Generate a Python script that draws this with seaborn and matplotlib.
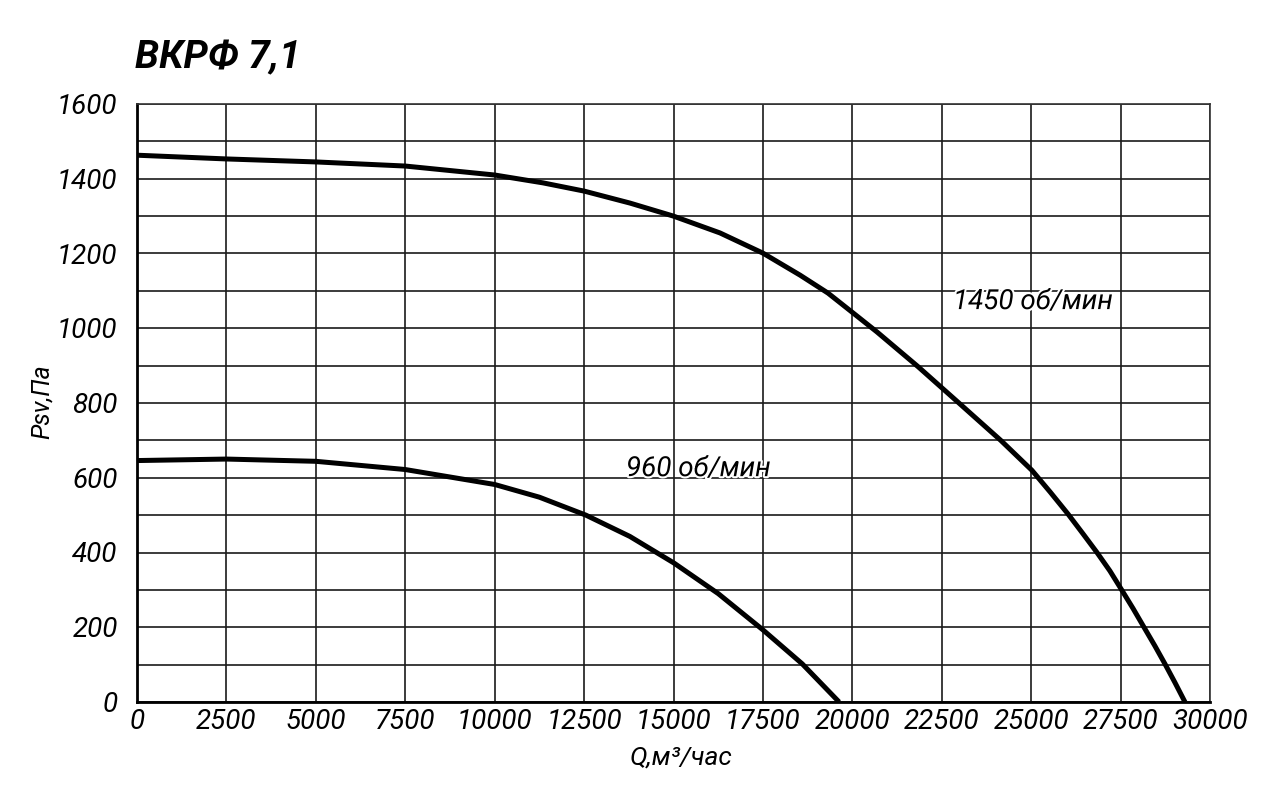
import matplotlib
matplotlib.use("Agg")
import matplotlib.pyplot as plt
import matplotlib.patheffects as pe
from matplotlib.ticker import MultipleLocator
import seaborn as sns
import pandas as pd

# ---- data ----
q_1450 = [0, 2500, 5000, 7500, 10000, 11350, 12500, 13780, 15000, 16300, 17500,
          18540, 19320, 20020, 20690, 21840, 22980, 24150, 25020, 25530,
          26030, 26450, 26840, 27200, 27530, 27850, 28130, 28460, 28740, 29020, 29300]
p_1450 = [1463, 1453, 1445, 1434, 1410, 1389, 1367, 1335, 1300, 1255, 1201,
          1142, 1094, 1041, 990, 897, 800, 700, 620, 562,
          503, 450, 400, 351, 300, 250, 204, 150, 102, 52, 0]

q_960 = [0, 2500, 5000, 7500, 10000, 11250, 12550, 13780, 15010, 16250,
         17500, 18600, 19630]
p_960 = [646, 650, 644, 622, 582, 548, 500, 443, 372, 290,
         193, 102, 0]

curve_labels = ["1450 об/мин", "960 об/мин"]
label_pos = [(22815, 1070), (13672, 623)]

x_ticks = [0, 2500, 5000, 7500, 10000, 12500, 15000, 17500, 20000, 22500, 25000, 27500, 30000]
y_ticks = [0, 200, 400, 600, 800, 1000, 1200, 1400, 1600]

title = "ВКРФ 7,1"
x_label = "Q,м³/час"
y_label = "Psv,Па"

# ---- styling ----
sns.set_theme(style="white")
fam = ["Roboto", "DejaVu Sans"]
plt.rcParams["font.family"] = fam
plt.rcParams["text.color"] = "black"

fig = plt.figure(figsize=(12.63, 8.06), dpi=100)
ax = fig.add_axes([137 / 1263, 104 / 806, (1210 - 137) / 1263, (702 - 104) / 806])

df1 = pd.DataFrame({"Q": q_1450, "P": p_1450})
df2 = pd.DataFrame({"Q": q_960, "P": p_960})
sns.lineplot(data=df1, x="Q", y="P", ax=ax, color="black", linewidth=3.6,
             sort=False, estimator=None, zorder=3)
sns.lineplot(data=df2, x="Q", y="P", ax=ax, color="black", linewidth=3.6,
             sort=False, estimator=None, zorder=3)
for ln in ax.get_lines():
    ln.set_solid_joinstyle("round")
    ln.set_solid_capstyle("butt")

ax.set_xlim(0, 30000)
ax.set_ylim(0, 1600)
ax.set_xticks(x_ticks)
ax.set_yticks(y_ticks)
ax.yaxis.set_minor_locator(MultipleLocator(100))
ax.set_xticklabels([str(v) for v in x_ticks])
ax.set_yticklabels([str(v) for v in y_ticks])
ax.grid(True, which="both", color="#1a1a1a", linewidth=1.2)
ax.set_axisbelow(True)
ax.tick_params(axis="both", which="both", length=0, labelcolor="black")
ax.tick_params(axis="x", pad=5, labelsize=20)
ax.tick_params(axis="y", pad=14, labelsize=20)
for lab in ax.get_xticklabels() + ax.get_yticklabels():
    lab.set_fontstyle("italic")
for s in ["top", "right"]:
    ax.spines[s].set_color("#333333")
    ax.spines[s].set_linewidth(1.2)
for s in ["left", "bottom"]:
    ax.spines[s].set_color("black")
    ax.spines[s].set_linewidth(2)
ax.set_xlabel("")
ax.set_ylabel("")

for txt, (xq, yp) in zip(curve_labels, label_pos):
    ax.text(xq, yp, txt, fontsize=20, fontstyle="italic", ha="left", va="center",
            color="black", zorder=4,
            path_effects=[pe.withStroke(linewidth=3, foreground="white")])

fig.text(135 / 1263, 1 - 58 / 806, title, fontsize=28, fontweight="bold",
         fontstyle="italic", ha="left", va="center", color="black")
fig.text(681 / 1263, 1 - 758 / 806, x_label, fontsize=19, fontstyle="italic",
         ha="center", va="center", color="black")
fig.text(42 / 1263, 1 - 402 / 806, y_label, fontsize=18, fontstyle="italic",
         ha="center", va="center", rotation=90, color="black")

fig.savefig("out.png", dpi=100, facecolor="white")
